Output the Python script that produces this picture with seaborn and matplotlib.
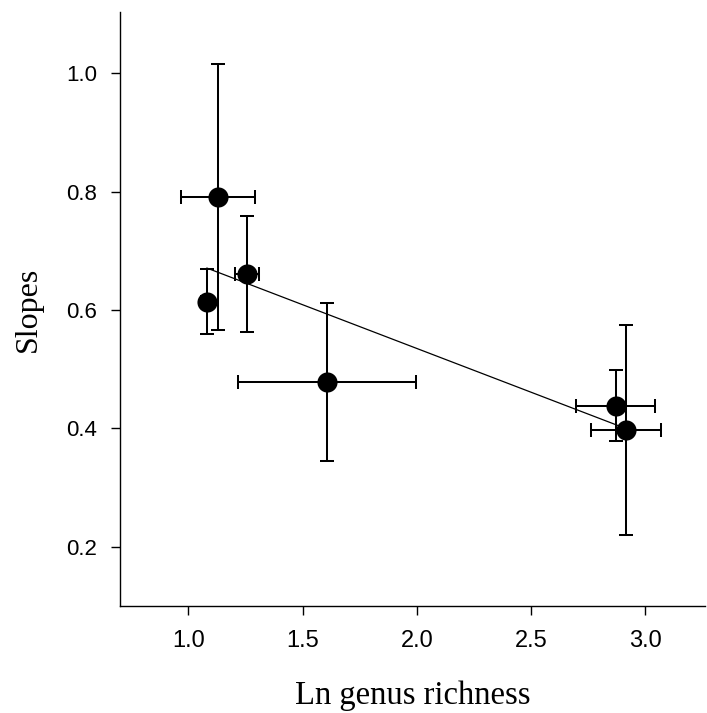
import matplotlib
matplotlib.use("Agg")
import matplotlib.pyplot as plt
import seaborn as sns
import pandas as pd

# Data
genus_richness = [1.080, 1.129, 1.258, 1.608, 2.870, 2.916]
slopes = [0.614, 0.791, 0.660, 0.478, 0.438, 0.397]
slope_low = [0.559, 0.566, 0.562, 0.345, 0.378, 0.220]
slope_high = [0.670, 1.015, 0.759, 0.611, 0.498, 0.575]
rich_low = [1.055, 0.968, 1.204, 1.218, 2.696, 2.762]
rich_high = [1.105, 1.293, 1.310, 1.996, 3.042, 3.071]
x_ticks = [1.0, 1.5, 2.0, 2.5, 3.0]
y_ticks = [0.2, 0.4, 0.6, 0.8, 1.0]

df = pd.DataFrame({"x": genus_richness, "y": slopes})

sns.set_theme(style="ticks")
plt.rcParams["font.family"] = ["Liberation Sans", "DejaVu Sans"]

fig = plt.figure(figsize=(7.07, 7.13), dpi=100)
ax = fig.add_axes([0.1697, 0.150, 0.997 - 0.1697, 0.983 - 0.150])

xerr = [[x - lo for x, lo in zip(genus_richness, rich_low)],
        [hi - x for x, hi in zip(genus_richness, rich_high)]]
yerr = [[y - lo for y, lo in zip(slopes, slope_low)],
        [hi - y for y, hi in zip(slopes, slope_high)]]
ax.errorbar(genus_richness, slopes, xerr=xerr, yerr=yerr, fmt="none",
            ecolor="black", elinewidth=1.45, capsize=5.3, capthick=1.45, zorder=2)

sns.regplot(data=df, x="x", y="y", ci=None, scatter=False, truncate=True,
            line_kws={"color": "black", "linewidth": 0.9, "zorder": 3}, ax=ax)

sns.scatterplot(data=df, x="x", y="y", s=210, color="black", edgecolor="black",
                linewidth=0, zorder=4, ax=ax, legend=False)

ax.set_xlim(0.700, 3.261)
ax.set_ylim(0.100, 1.103)
ax.set_xticks(x_ticks)
ax.set_yticks(y_ticks)
ax.set_xticklabels([f"{t:.1f}" for t in x_ticks])
ax.set_yticklabels([f"{t:.1f}" for t in y_ticks])
ax.tick_params(axis="both", direction="out", length=6.5, width=1.0,
               color="black", labelcolor="black")
ax.tick_params(axis="x", pad=11, labelsize=17)
ax.tick_params(axis="y", pad=10, labelsize=16)

for side in ["top", "right"]:
    ax.spines[side].set_visible(False)
for side in ["left", "bottom"]:
    ax.spines[side].set_color("black")
    ax.spines[side].set_linewidth(1.0)

ax.set_xlabel("Ln genus richness", family=["Liberation Serif", "DejaVu Serif"],
              fontsize=23.5, color="black", labelpad=20)
ax.set_ylabel("Slopes", family=["Liberation Serif", "DejaVu Serif"],
              fontsize=23, color="black", labelpad=16.5)

fig.savefig("out.png", dpi=100, facecolor="white")
